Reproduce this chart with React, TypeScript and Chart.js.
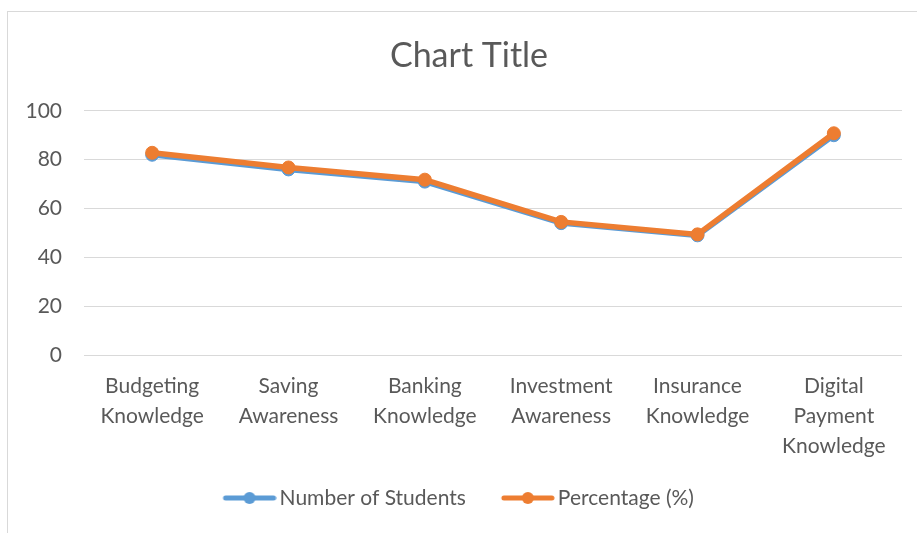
import React, { useEffect, useRef } from "react";
import { Chart, registerables } from "chart.js";

Chart.register(...registerables);

const categories: string[][] = [
  ["Budgeting", "Knowledge"],
  ["Saving", "Awareness"],
  ["Banking", "Knowledge"],
  ["Investment", "Awareness"],
  ["Insurance", "Knowledge"],
  ["Digital", "Payment", "Knowledge"],
];
const studentsValues: number[] = [82, 76, 71, 54, 49, 90];
const percentageValues: number[] = [82.8, 76.8, 71.8, 54.5, 49.4, 90.8];
const seriesNames: string[] = ["Number of Students", "Percentage (%)"];
const seriesColors: string[] = ["#5B9BD5", "#ED7D31"];

const FONT = "Lato, 'Open Sans', sans-serif";
const TEXT = "#595959";

// legend symbol: transparent left margin + line with round marker
const LEGEND_MARGIN = 24.5;
const SYMBOL_W = 54;
const PSW = 46.5 + LEGEND_MARGIN;
const IMG_W = Math.round(PSW + 15);

function legendSymbol(color: string): HTMLCanvasElement {
  const c = document.createElement("canvas");
  c.width = IMG_W;
  c.height = 14;
  const ctx = c.getContext("2d")!;
  const x0 = IMG_W - SYMBOL_W;
  ctx.strokeStyle = color;
  ctx.lineWidth = 5;
  ctx.lineCap = "round";
  ctx.beginPath();
  ctx.moveTo(x0 + 3, 7);
  ctx.lineTo(x0 + SYMBOL_W - 3, 7);
  ctx.stroke();
  ctx.fillStyle = color;
  ctx.beginPath();
  ctx.arc(x0 + SYMBOL_W / 2, 7, 6, 0, Math.PI * 2);
  ctx.fill();
  return c;
}

// Excel centres title/legend on the (wider) chart frame; nudge boxes to match
const boxShift = {
  id: "boxShift",
  afterLayout(chart: any) {
    const l = chart.legend;
    if (l) {
      l.left -= 5;
      l.right -= 5;
    }
    const t = chart.titleBlock;
    if (t) {
      t.left += 18;
      t.right += 18;
    }
  },
};

export default function App() {
  const ref = useRef<HTMLCanvasElement | null>(null);

  useEffect(() => {
    if (!ref.current) return;
    const symbols = seriesColors.map(legendSymbol);
    const chart = new Chart(ref.current, {
      type: "line",
      data: {
        labels: categories,
        datasets: [
          {
            label: seriesNames[0],
            data: studentsValues,
            borderColor: seriesColors[0],
            backgroundColor: seriesColors[0],
            borderWidth: 5.5,
            pointRadius: 6.5,
            pointBorderWidth: 1,
            pointBackgroundColor: seriesColors[0],
            pointBorderColor: seriesColors[0],
            tension: 0,
            order: 1,
          },
          {
            label: seriesNames[1],
            data: percentageValues,
            borderColor: seriesColors[1],
            backgroundColor: seriesColors[1],
            borderWidth: 5.5,
            pointRadius: 6.5,
            pointBorderWidth: 1,
            pointBackgroundColor: seriesColors[1],
            pointBorderColor: seriesColors[1],
            tension: 0,
            order: 0,
          },
        ],
      },
      plugins: [boxShift],
      options: {
        responsive: false,
        animation: false,
        layout: { padding: { left: 0, right: 15, top: 0, bottom: 14.5 } },
        plugins: {
          title: {
            display: true,
            text: "Chart Title",
            color: TEXT,
            font: { family: FONT, size: 34, weight: "normal" as any },
            padding: { top: 36, bottom: 34 },
          },
          legend: {
            position: "bottom",
            labels: {
              usePointStyle: true,
              pointStyleWidth: PSW,
              color: TEXT,
              font: { family: FONT, size: 21 },
              padding: 10.5,
              generateLabels: () =>
                seriesNames.map((n, i) => ({
                  text: n,
                  fillStyle: seriesColors[i],
                  strokeStyle: seriesColors[i],
                  lineWidth: 0,
                  pointStyle: symbols[i],
                  datasetIndex: i,
                  hidden: false,
                  fontColor: TEXT,
                })),
            },
          },
          tooltip: { enabled: false },
        },
        scales: {
          x: {
            offset: true,
            grid: { display: false, drawTicks: false },
            border: { display: false },
            ticks: {
              color: TEXT,
              font: { family: FONT, size: 21, lineHeight: "30px" as any },
              padding: 16,
              maxRotation: 0,
              autoSkip: false,
            },
          },
          y: {
            min: 0,
            max: 100,
            grid: { color: "#D9D9D9", lineWidth: 1, drawTicks: false },
            border: { display: false },
            ticks: {
              stepSize: 20,
              color: TEXT,
              font: { family: FONT, size: 21 },
              padding: 22,
            },
            afterFit: (scale: any) => {
              scale.width = 84;
            },
          },
        },
      },
    });
    return () => chart.destroy();
  }, []);

  return (
    <div style={{ position: "absolute", left: 0, top: 0, width: 917, height: 533, overflow: "hidden", background: "#fff" }}>
      <div
        style={{
          position: "absolute",
          left: 7,
          top: 11,
          width: 920,
          height: 530,
          borderLeft: "1px solid #D9D9D9",
          borderTop: "1px solid #D9D9D9",
        }}
      />
      <canvas ref={ref} width={917} height={533} style={{ position: "absolute", left: 0, top: 0 }} />
    </div>
  );
}
